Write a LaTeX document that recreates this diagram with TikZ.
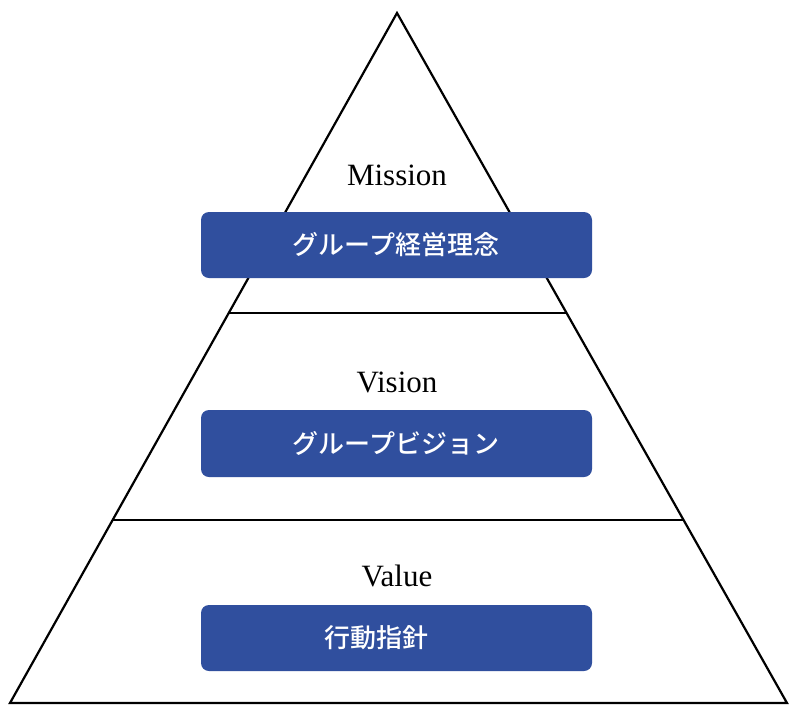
\documentclass[tikz,border=0pt]{standalone}
\usepackage{fontspec}
\setmainfont{Liberation Serif}
\newfontfamily\jp{Noto Sans CJK JP Medium}
\usetikzlibrary{calc}
\definecolor{boxblue}{RGB}{48,79,158}
\tikzset{
  edge/.style={draw=black, line width=2.2pt, line join=miter},
  bluebox/.style={fill=boxblue, rounded corners=8pt},
  tierlabel/.style={anchor=base, inner sep=0pt, font=\fontsize{31}{34}\selectfont, text=black},
  jplabel/.style={anchor=center, inner sep=0pt, text=white, font=\jp\fontsize{26}{30}\selectfont},
}
\begin{document}
\begin{tikzpicture}[x=1pt,y=-1pt]
\useasboundingbox (0,0) rectangle (796,724);
\fill[white] (0,0) rectangle (796,724);
\coordinate (apex) at (397,13);
\coordinate (bl) at (10,703);
\coordinate (br) at (787,703);
\coordinate (m1l) at ($(apex)!0.4348!(bl)$);
\coordinate (m1r) at ($(apex)!0.4348!(br)$);
\coordinate (m2l) at ($(apex)!0.7348!(bl)$);
\coordinate (m2r) at ($(apex)!0.7348!(br)$);
\draw[edge] (apex) -- (bl) -- (br) -- cycle;
\draw[edge] (m1l) -- (m1r);
\draw[edge] (m2l) -- (m2r);
% boxes
\fill[bluebox] (201,212) rectangle (592,278);
\fill[bluebox] (201,410) rectangle (592,477);
\fill[bluebox] (201,605) rectangle (592,671);
\node[tierlabel] (mission) at (397,185) {Mission};
\node[tierlabel] (vision) at (397,392) {Vision};
\node[tierlabel] (value) at (397,586) {Value};
\node[jplabel] (mjp) at (396,245) {グループ経営理念};
\node[jplabel] (vjp) at (396,443) {グループビジョン};
\node[jplabel] (valjp) at (376,638) {行動指針};
\end{tikzpicture}
\end{document}
